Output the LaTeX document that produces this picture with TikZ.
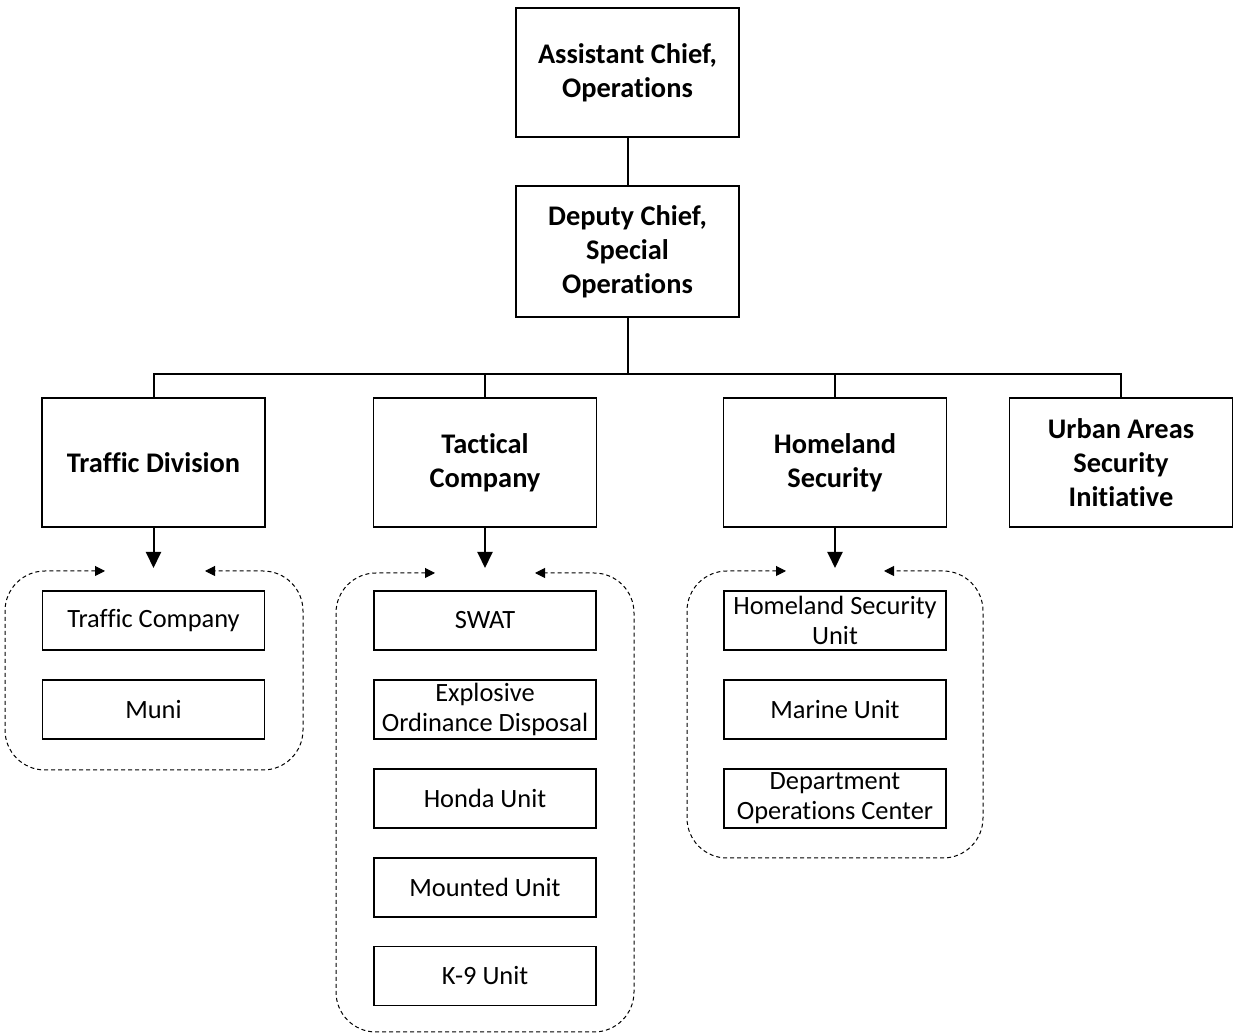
\documentclass[tikz,border=0pt]{standalone}
\usepackage{fontspec}
\setmainfont{Carlito}[Ligatures=NoCommon]
\usetikzlibrary{arrows.meta}

\begin{document}
\begin{tikzpicture}[x=0.5pt, y=-0.5pt,
    head/.style={draw=black, line width=0.8pt, minimum width=111.5pt, minimum height=64.5pt, inner sep=1pt, align=center, font=\fontsize{14.2}{17}\selectfont\bfseries},
    unit/.style={draw=black, line width=0.8pt, minimum width=111pt, minimum height=29.5pt, inner sep=1pt, align=center, font=\fontsize{13.2}{15}\selectfont},
    link/.style={line width=1pt},
    down/.style={line width=1pt, -{Triangle[length=8pt, width=7.5pt]}},
    grp/.style={line width=0.5pt, dash pattern=on 2pt off 1.5pt, rounded corners=20pt, {Triangle[length=5pt, width=5pt]}-{Triangle[length=5pt, width=5pt]}}]
            \useasboundingbox (0,0) rectangle (1233,1036);

            % top of the chart
            \node[head] (AC) at (627.5, 72.5) {Assistant Chief,\\Operations};
            \node[head, minimum height=65.5pt] (DC) at (627.5, 251.5) {Deputy Chief,\\Special\\Operations};
            \coordinate (bus) at (627.5, 374);

            % divisions
            \node[head] (TD) at (153.5, 462.5) {Traffic Division};
            \node[head] (TC) at (485, 462.5) {Tactical\\Company};
            \node[head] (HS) at (835, 462.5) {Homeland\\Security};
            \node[head] (UA) at (1121, 462.5) {Urban Areas\\Security\\Initiative};

            \path [link] (AC) edge (DC);
            \path [link] (DC) edge (bus);
            \draw [link] (bus) -| (TD);
            \draw [link] (bus) -| (TC);
            \draw [link] (bus) -| (HS);
            \draw [link] (bus) -| (UA);

            % traffic units
            \node[unit] (T1) at (153.5, 620.5) {Traffic Company};
            \node[unit] (T2) at (153.5, 709.5) {Muni};

            % tactical units
            \node[unit] (C1) at (485, 620.5) {SWAT};
            \node[unit] (C2) at (485, 709.5) {Explosive\\Ordinance Disposal};
            \node[unit] (C3) at (485, 798.5) {Honda Unit};
            \node[unit] (C4) at (485, 887.5) {Mounted Unit};
            \node[unit] (C5) at (485, 976) {K-9 Unit};

            % homeland units
            \node[unit] (H1) at (835, 620.5) {Homeland Security\\Unit};
            \node[unit] (H2) at (835, 709.5) {Marine Unit};
            \node[unit] (H3) at (835, 798.5) {Department\\Operations Center};

            % arrows into the groups
            \coordinate (Tin) at (153.5, 568);
            \coordinate (Cin) at (485, 568);
            \coordinate (Hin) at (835, 568);
            \draw [down] (TD) -- (Tin);
            \draw [down] (TC) -- (Cin);
            \draw [down] (HS) -- (Hin);

            % dashed group outlines
            \coordinate (Tl) at (105, 571);
            \coordinate (Tr) at (205, 571);
            \coordinate (Cl) at (435, 573);
            \coordinate (Cr) at (535, 573);
            \coordinate (Hl) at (786, 571);
            \coordinate (Hr) at (884, 571);
            \draw [grp] (Tl) -- (5, 571) -- (5, 770) -- (303, 770) -- (303, 571) -- (Tr);
            \draw [grp] (Cl) -- (336, 573) -- (336, 1032) -- (634, 1032) -- (634, 573) -- (Cr);
            \draw [grp] (Hl) -- (687, 571) -- (687, 858) -- (983, 858) -- (983, 571) -- (Hr);
        \end{tikzpicture}
\end{document}
